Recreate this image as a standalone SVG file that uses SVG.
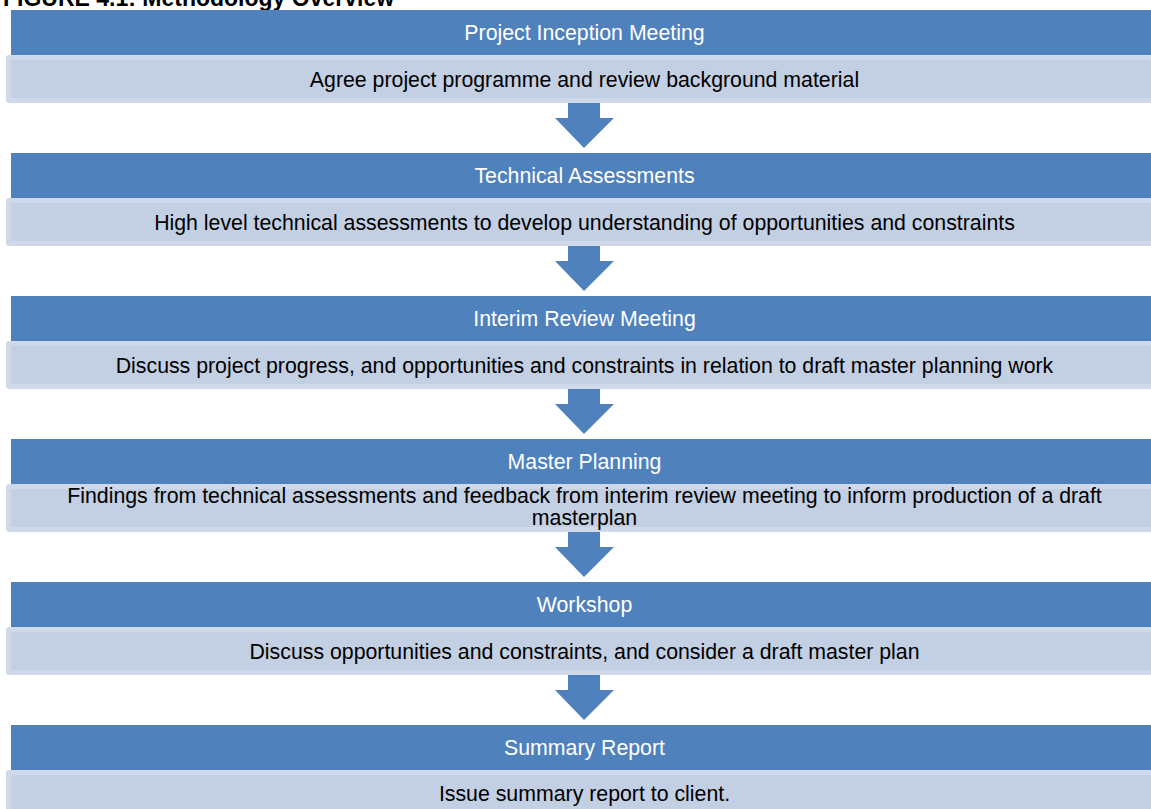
<svg xmlns="http://www.w3.org/2000/svg" width="1151" height="809" viewBox="0 0 1151 809">
<style>
.hdr{fill:#4F81BD}
.bo{fill:#D0D9EA}
.bi{fill:#C3CFE2}
.ht{font-family:"Liberation Sans",Arial,sans-serif;font-size:21.3px;fill:#FFFFFF;text-anchor:middle}
.bt{font-family:"Liberation Sans",Arial,sans-serif;font-size:21.3px;fill:#000000;text-anchor:middle}
.title{font-family:"Liberation Sans",Arial,sans-serif;font-size:23px;font-weight:bold;fill:#000000}
.arr{fill:#4F81BD}
</style>
<defs>
<polygon id="arrow" points="568,0 600,0 600,15 614,15 584,45 555,15 568,15"/>
</defs>
<text class="title" x="3" y="6">FIGURE 4.1: Methodology Overview</text>

<g id="node1">
<rect class="hdr" x="11" y="10" width="1150" height="45"/>
<rect class="bo" x="6" y="55" width="1160" height="48" rx="3"/>
<rect class="bi" x="11" y="60" width="1150" height="38"/>
<text class="ht" x="584.5" y="40">Project Inception Meeting</text>
<text class="bt" x="584.5" y="86.5">Agree project programme and review background material</text>
</g>

<g id="node2">
<rect class="hdr" x="11" y="153" width="1150" height="45"/>
<rect class="bo" x="6" y="198" width="1160" height="48" rx="3"/>
<rect class="bi" x="11" y="203" width="1150" height="38"/>
<text class="ht" x="584.5" y="183">Technical Assessments</text>
<text class="bt" x="584.5" y="229.5">High level technical assessments to develop understanding of opportunities and constraints</text>
</g>

<g id="node3">
<rect class="hdr" x="11" y="296" width="1150" height="45"/>
<rect class="bo" x="6" y="341" width="1160" height="48" rx="3"/>
<rect class="bi" x="11" y="346" width="1150" height="38"/>
<text class="ht" x="584.5" y="326">Interim Review Meeting</text>
<text class="bt" x="584.5" y="372.5">Discuss project progress, and opportunities and constraints in relation to draft master planning work</text>
</g>

<g id="node4">
<rect class="hdr" x="11" y="439" width="1150" height="45"/>
<rect class="bo" x="6" y="484" width="1160" height="48" rx="3"/>
<rect class="bi" x="11" y="489" width="1150" height="38"/>
<text class="ht" x="584.5" y="469">Master Planning</text>
<text class="bt" x="584.5" y="503">Findings from technical assessments and feedback from interim review meeting to inform production of a draft</text>
<text class="bt" x="584.5" y="525">masterplan</text>
</g>

<g id="node5">
<rect class="hdr" x="11" y="582" width="1150" height="45"/>
<rect class="bo" x="6" y="627" width="1160" height="48" rx="3"/>
<rect class="bi" x="11" y="632" width="1150" height="38"/>
<text class="ht" x="584.5" y="612">Workshop</text>
<text class="bt" x="584.5" y="658.5">Discuss opportunities and constraints, and consider a draft master plan</text>
</g>

<g id="node6">
<rect class="hdr" x="11" y="725" width="1150" height="45"/>
<rect class="bo" x="6" y="770" width="1160" height="48" rx="3"/>
<rect class="bi" x="11" y="775" width="1150" height="38"/>
<text class="ht" x="584.5" y="755">Summary Report</text>
<text class="bt" x="584.5" y="800.5">Issue summary report to client.</text>
</g>

<g id="connectors">
<use href="#arrow" class="arr" y="103"/>
<use href="#arrow" class="arr" y="246"/>
<use href="#arrow" class="arr" y="389"/>
<use href="#arrow" class="arr" y="532"/>
<use href="#arrow" class="arr" y="675"/>
</g>
</svg>
